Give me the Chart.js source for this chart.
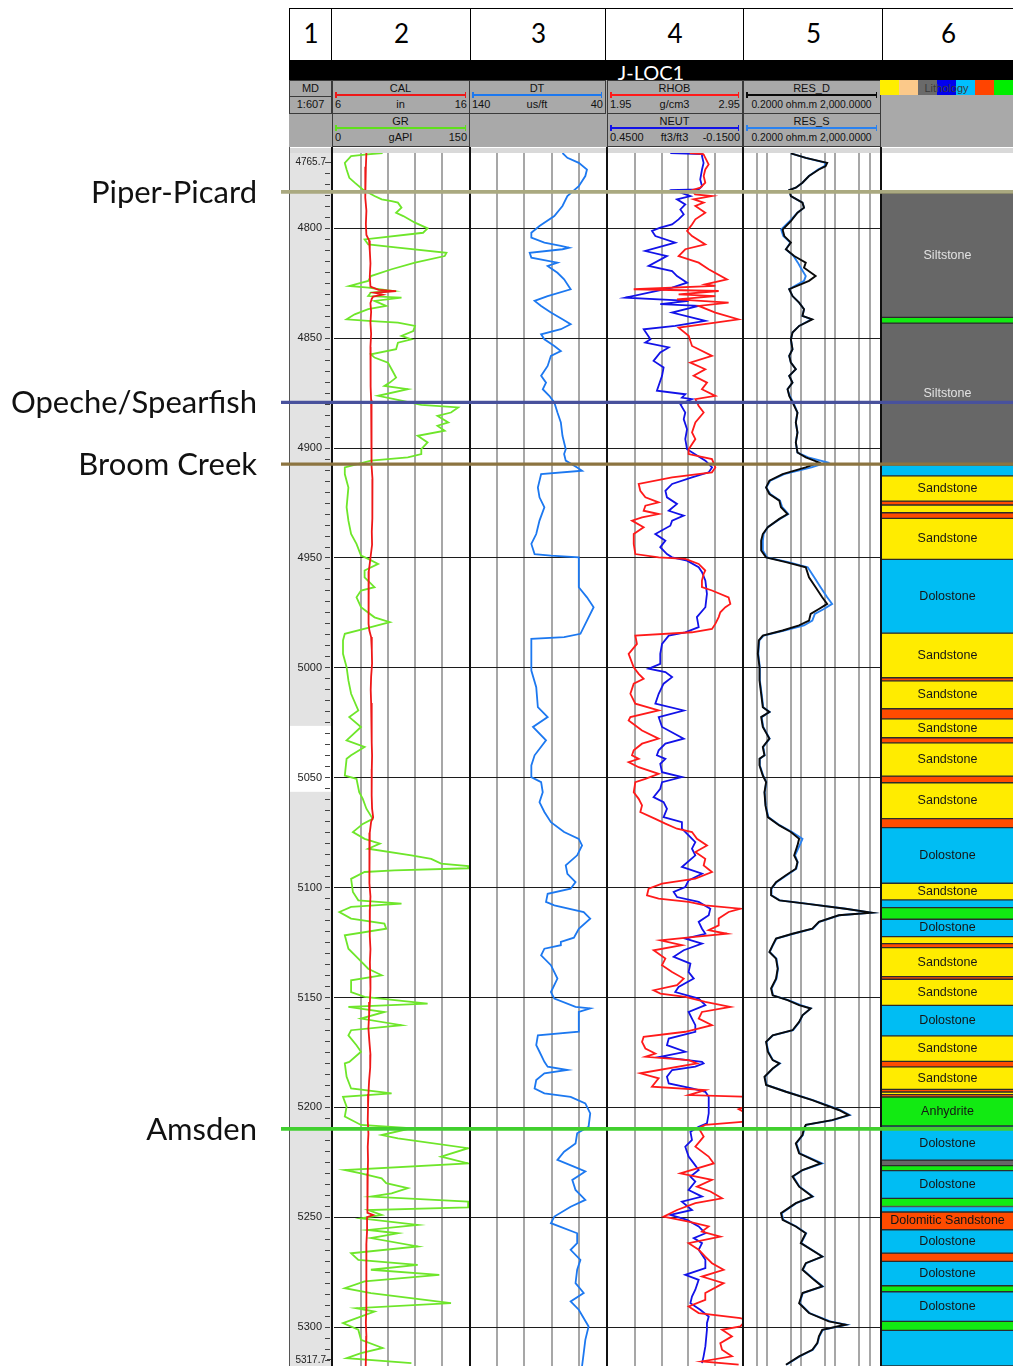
<!DOCTYPE html>
<html>
<head>
<meta charset="utf-8">
<title>J-LOC1 well log</title>
<script src="https://cdn.jsdelivr.net/npm/chart.js@4/dist/chart.umd.min.js"></script>
<style>
  html, body { margin: 0; padding: 0; background: #fff; }
  body { width: 1013px; height: 1367px; overflow: hidden; position: relative; font-family: "Liberation Sans", Arial, sans-serif; }
  .abs { position: absolute; box-sizing: border-box; white-space: nowrap; }
  canvas { position: absolute; }
</style>
</head>
<body>
<script>
// ---------------------------------------------------------------------------
// Depth range and grid
// ---------------------------------------------------------------------------
const DEPTH_TOP = 4765.7;
const DEPTH_BASE = 5317.7;
const DEPTH_GRID = [4800, 4850, 4900, 4950, 5000, 5050, 5100, 5150, 5200, 5250, 5300];
const MD_HIGHLIGHT = [5026.4, 5056.4];

// Formation tops (ft MD)
const FORMATION_NAMES = ['Piper-Picard', 'Opeche/Spearfish', 'Broom Creek', 'Amsden'];
const FORMATION_DEPTHS = [4783.4, 4879.2, 4907.3, 5209.8];

// Curve grid values per track
const GR_GRID = [30, 60, 90, 120];
const DT_GRID = [60, 80, 100, 120];
const RHOB_GRID = [2.15, 2.35, 2.55, 2.75];
const RES_GRID = [0.5, 1, 5, 10, 50, 100, 500, 1000];

// ---------------------------------------------------------------------------
// Log curves: [depth ft, value]
// ---------------------------------------------------------------------------
const GR_API = [
[4765.7,54],[4766.4,34],[4767.1,19],[4770.2,12],[4773.2,14],[4777.0,17],[4779.2,23],[4782.3,32],[4785.3,45],[4786.8,53],
[4787.6,64],[4788.3,71],[4790.6,75],[4792.9,69],[4794.4,77],[4797.4,90],[4800.0,104],[4802.0,99],[4805.0,34],[4807.3,38],
[4808.8,71],[4811.1,125],[4812.6,123],[4815.6,90],[4818.6,64],[4821.7,41],[4823.9,38],[4826.2,17],[4827.0,38],[4828.5,65],
[4829.2,41],[4830.8,38],[4831.5,75],[4833.0,45],[4835.3,58],[4836.8,38],[4839.1,23],[4841.4,14],[4842.1,38],[4842.9,71],
[4844.4,90],[4846.7,88],[4848.9,75],[4850.5,86],[4852.0,71],[4855.0,69],[4857.3,41],[4858.8,45],[4861.1,60],[4864.1,64],
[4867.9,69],[4870.2,62],[4871.7,56],[4873.2,82],[4876.2,49],[4877.7,67],[4880.3,97],[4881.5,138],[4883.8,130],[4885.3,115],
[4888.3,127],[4889.8,115],[4892.1,123],[4894.4,93],[4897.4,104],[4900.5,97],[4902.7,97],[4904.2,82],[4905.7,41],[4908.8,12],
[4911.8,12],[4917.9,16],[4926.9,14],[4933.0,16],[4939.1,19],[4943.6,25],[4948.9,30],[4950.4,38],[4952.7,49],[4955.7,34],
[4958.8,34],[4963.3,45],[4964.8,30],[4967.9,25],[4972.4,30],[4977.0,45],[4979.2,62],[4981.5,41],[4984.5,12],[4987.5,10],
[4993.6,10],[4999.7,14],[5005.7,16],[5011.8,19],[5019.4,27],[5022.4,17],[5026.9,30],[5033.0,14],[5036.0,34],[5039.8,19],
[5041.4,14],[5049.0,12],[5050.5,25],[5056.6,28],[5059.6,32],[5064.1,36],[5068.7,43],[5071.0,32],[5074.7,21],[5077.8,34],
[5080.0,51],[5082.3,38],[5085.3,86],[5086.9,108],[5089.1,119],[5090.2,149],[5091.2,149],[5092.2,67],[5092.9,34],[5096.0,19],
[5102.0,21],[5105.8,27],[5107.3,75],[5108.8,19],[5111.1,6],[5114.1,19],[5116.4,56],[5118.7,58],[5121.7,12],[5127.8,16],
[5132.3,27],[5136.9,38],[5139.9,53],[5142.2,19],[5147.5,19],[5149.7,34],[5152.8,104],[5154.3,16],[5156.6,56],[5159.6,30],
[5162.6,75],[5164.9,19],[5167.2,16],[5171.7,25],[5174.7,30],[5179.3,17],[5180.0,12],[5186.1,14],[5191.4,19],[5193.6,64],
[5195.2,10],[5199.7,14],[5204.2,12],[5208.0,30],[5209.5,86],[5212.6,53],[5214.1,71],[5218.6,149],[5222.4,119],[5225.5,149],
[5228.5,12],[5230.0,30],[5232.3,53],[5234.5,58],[5236.8,82],[5239.1,64],[5240.6,41],[5242.9,149],[5245.5,149],[5246.7,38],
[5248.9,53],[5250.5,30],[5253.5,93],[5255.8,38],[5257.3,71],[5259.5,41],[5263.3,93],[5266.4,19],[5269.4,27],[5271.7,93],
[5273.9,41],[5276.2,117],[5279.2,34],[5282.3,12],[5284.5,41],[5289.1,130],[5291.4,25],[5292.9,45],[5298.2,10],[5301.2,27],
[5305.8,30],[5309.5,54],[5311.8,30],[5314.1,14],[5316.4,86]
];

const CAL_IN = [
[4765.7,8.40],[4772,8.36],[4778,8.30],[4782,8.30],[4786,8.35],[4792,8.40],[4798,8.36],[4803,8.40],[4805.5,8.60],[4810,8.65],
[4816,8.70],[4822,8.65],[4826.5,8.70],[4828,9.30],[4828.6,10.60],[4829.3,9.00],[4830.2,9.60],[4831,8.90],[4832,8.80],[4834,8.70],
[4838,8.75],[4843,8.70],[4848,8.75],[4854,8.70],[4860,8.72],[4866,8.70],[4872,8.72],[4878,8.75],[4884,8.75],[4890,8.78],
[4896,8.78],[4902,8.80],[4908,8.80],[4914,8.85],[4920,8.82],[4926,8.85],[4932,8.85],[4938,8.80],[4944,8.82],[4950,8.70],
[4956,8.58],[4962,8.55],[4968,8.55],[4974,8.56],[4980,8.58],[4983,8.62],[4986,8.75],[4992,8.80],[4998,8.82],[5004,8.75],
[5010,8.72],[5016,8.75],[5022,8.80],[5028,8.78],[5034,8.80],[5040,8.82],[5046,8.80],[5052,8.78],[5058,8.80],[5064,8.82],
[5068,8.90],[5070,8.75],[5075,8.65],[5080,8.60],[5086,8.62],[5092,8.62],[5098,8.65],[5104,8.70],[5110,8.66],[5116,8.64],
[5122,8.66],[5128,8.70],[5134,8.66],[5140,8.68],[5146,8.70],[5152,8.66],[5158,8.60],[5164,8.55],[5170,8.62],[5176,8.70],
[5182,8.68],[5188,8.60],[5194,8.55],[5200,8.52],[5206,8.50],[5212,8.55],[5218,8.50],[5224,8.52],[5230,8.50],[5236,8.48],
[5242,8.45],[5248,8.50],[5249,8.90],[5250,8.45],[5256,8.45],[5262,8.40],[5268,8.42],[5274,8.40],[5280,8.38],[5286,8.40],
[5292,8.38],[5298,8.36],[5304,8.40],[5310,8.38],[5317.7,8.35]
];

const DT_USFT = [
[4765.7,72],[4767.9,68.4],[4770.2,60],[4773.2,54],[4776.2,55.2],[4780.8,60],[4785.3,68.4],[4789.8,72],[4794.4,78],[4798.9,88.9],
[4802.0,94.9],[4804.2,94.9],[4806.5,85.3],[4808.0,73.2],[4808.8,67.2],[4809.5,72],[4811.1,96.1],[4813.3,94.9],[4815.6,75.7],[4817.1,82.9],
[4820.2,75.7],[4823.2,70.8],[4827.7,66],[4830.8,82.9],[4833.0,92.5],[4835.3,87.7],[4838.3,80.5],[4841.4,72],[4843.6,66],[4845.9,73.2],
[4848.2,87.7],[4850.5,85.3],[4853.5,78],[4855.8,73.2],[4858.0,80.5],[4862.6,82.9],[4867.1,87.7],[4870.2,84.1],[4873.2,86.5],[4876.2,81.7],
[4879.2,78],[4883.8,75.7],[4888.3,73.2],[4894.4,72],[4900.5,69.6],[4902.7,70.8],[4905.7,69.6],[4908.8,61.2],[4910.3,57.6],[4911.8,87.7],
[4917.9,90.1],[4922.4,88.9],[4926.9,85.3],[4933.0,88.9],[4939.1,91.3],[4943.6,94.9],[4948.2,92.5],[4948.9,80.5],[4949.7,60],[4955.7,60],
[4963.3,60],[4967.9,54],[4972.4,49.1],[4978.5,54],[4984.5,58.8],[4986.0,70.8],[4986.8,94.9],[4993.6,94.9],[5001.2,94.9],[5008.8,91.3],
[5017.9,90.1],[5022.4,82.9],[5026.9,93.7],[5033.0,84.1],[5039.8,92.5],[5044.4,94.9],[5049.7,94.9],[5052.0,87.7],[5056.6,86.5],[5061.1,88.9],
[5065.6,85.3],[5070.2,80.5],[5074.7,70.8],[5077.8,60],[5080.8,57.6],[5085.3,61.2],[5089.9,69.6],[5093.7,68.4],[5097.5,62.4],[5100.5,66],
[5102.8,82.9],[5106.5,84.1],[5108.1,78],[5111.1,56.4],[5114.1,51.6],[5118.7,60],[5122.8,63.6],[5124.7,73.2],[5126.2,73.2],[5127.8,85.3],
[5130.8,87.7],[5135.3,80.5],[5141.4,75.7],[5147.5,80.5],[5150.5,78],[5154.3,62.4],[5155.0,51.6],[5156.6,60],[5165.6,60],[5167.2,90.1],
[5171.7,91.3],[5174.7,88.9],[5179.3,85.3],[5181.5,82.9],[5183.0,68.4],[5184.5,85.3],[5187.6,91.3],[5191.4,92.5],[5193.6,85.3],[5195.2,66],
[5198.2,55.2],[5202.7,51.6],[5208.8,52.8],[5211.8,61.2],[5216.4,62.4],[5220.2,70.8],[5223.9,75.7],[5227.0,63.6],[5229.2,55.2],[5233.0,64.8],
[5237.6,62.4],[5242.1,55.2],[5245.2,66],[5249.7,78],[5252.7,80.5],[5257.3,61.2],[5261.8,61.2],[5264.8,66],[5269.4,58.8],[5273.9,61.2],
[5280.0,62.4],[5284.5,56.4],[5288.3,66],[5292.1,60],[5299.7,52.8],[5305.8,55.2],[5311.8,56.4],[5317.7,57.6]
];

const RHOB_GCC = [
[4765.7,2.56],[4766.2,2.66],[4766.4,2.664],[4770.9,2.701],[4773.2,2.676],[4776.2,2.664],[4779.2,2.676],[4781.5,2.639],[4782.6,2.577],[4784.5,2.60],
[4785.3,2.726],[4786.8,2.589],[4788.3,2.664],[4789.8,2.602],[4792.9,2.676],[4795.9,2.602],[4798.2,2.577],[4801.2,2.54],[4803.5,2.577],[4807.3,2.676],
[4809.5,2.527],[4812.6,2.477],[4815.6,2.627],[4818.6,2.701],[4823.2,2.838],[4825.5,2.676],[4826.2,2.751],[4827.7,2.142],[4828.5,2.776],[4830.0,2.477],
[4830.8,2.751],[4832.3,2.465],[4833.8,2.85],[4835.3,2.627],[4838.3,2.751],[4841.4,2.925],[4842.9,2.751],[4845.2,2.477],[4848.9,2.552],[4853.5,2.577],
[4858.0,2.726],[4861.1,2.564],[4864.1,2.676],[4867.1,2.589],[4870.2,2.689],[4873.2,2.651],[4876.2,2.751],[4877.7,2.602],[4880.8,2.627],[4883.8,2.664],
[4888.3,2.602],[4892.9,2.577],[4895.9,2.602],[4900.5,2.552],[4902.7,2.552],[4905.0,2.726],[4908.8,2.751],[4911.0,2.726],[4913.3,2.428],[4916.3,2.179],
[4919.4,2.191],[4922.4,2.229],[4924.7,2.328],[4926.2,2.229],[4928.5,2.216],[4930.0,2.328],[4931.5,2.204],[4933.0,2.129],[4936.0,2.216],[4939.1,2.142],
[4943.6,2.142],[4948.2,2.154],[4949.7,2.328],[4950.4,2.527],[4952.7,2.627],[4955.7,2.676],[4957.2,2.664],[4960.3,2.651],[4963.3,2.651],[4964.8,2.726],
[4967.9,2.85],[4970.9,2.863],[4972.4,2.826],[4974.7,2.788],[4976.9,2.776],[4980.0,2.751],[4982.3,2.726],[4983.8,2.577],[4985.3,2.154],[4989.1,2.166],
[4993.6,2.104],[4999.7,2.142],[5002.7,2.179],[5005.0,2.216],[5007.2,2.142],[5011.8,2.117],[5016.3,2.154],[5019.4,2.328],[5022.4,2.117],[5023.9,2.104],
[5028.5,2.204],[5032.2,2.328],[5034.5,2.204],[5037.5,2.142],[5039.8,2.129],[5041.4,2.179],[5042.9,2.104],[5045.2,2.179],[5048.2,2.328],[5050.5,2.229],
[5052.0,2.154],[5056.6,2.142],[5059.6,2.179],[5062.6,2.204],[5065.6,2.191],[5068.7,2.303],[5070.9,2.378],[5073.2,2.465],[5074.7,2.577],[5077.8,2.614],
[5080.8,2.689],[5083.8,2.602],[5086.9,2.676],[5089.9,2.664],[5092.9,2.726],[5095.9,2.602],[5098.2,2.353],[5100.5,2.253],[5103.5,2.241],[5105.0,2.328],
[5106.5,2.552],[5108.1,2.676],[5109.6,2.938],[5111.1,2.85],[5114.1,2.776],[5117.2,2.776],[5119.4,2.701],[5121.0,2.838],[5122.5,2.577],[5124.0,2.341],
[5126.2,2.502],[5128.5,2.291],[5132.3,2.378],[5135.3,2.353],[5138.4,2.428],[5141.4,2.515],[5144.4,2.465],[5146.7,2.291],[5148.2,2.341],[5149.7,2.527],
[5152.0,2.676],[5154.3,2.863],[5156.6,2.651],[5159.6,2.627],[5162.6,2.726],[5165.6,2.527],[5167.9,2.216],[5170.2,2.204],[5173.2,2.229],[5175.5,2.303],
[5177.0,2.229],[5178.5,2.552],[5180.0,2.614],[5184.5,2.191],[5186.8,2.328],[5190.6,2.278],[5192.1,2.676],[5194.4,2.552],[5195.2,2.98],[5199.7,2.98],
[5200.8,2.925],[5202.7,2.98],[5206.5,2.98],[5208.0,2.676],[5209.5,2.627],[5213.3,2.664],[5217.9,2.602],[5222.4,2.701],[5225.5,2.739],[5230.0,2.49],
[5233.0,2.726],[5236.1,2.614],[5238.3,2.714],[5241.4,2.801],[5243.6,2.602],[5246.7,2.465],[5249.7,2.365],[5252.0,2.552],[5254.2,2.701],[5256.5,2.651],
[5258.8,2.788],[5261.8,2.552],[5264.8,2.627],[5267.9,2.676],[5270.9,2.726],[5273.9,2.813],[5277.0,2.651],[5280.0,2.813],[5284.5,2.676],[5287.6,2.676],
[5290.6,2.552],[5293.6,2.627],[5295.9,2.938],[5296.7,2.98],[5299.7,2.938],[5301.2,2.801],[5304.2,2.875],[5307.3,2.788],[5310.3,2.801],[5313.3,2.875],
[5315.6,2.651],[5317.1,2.925]
];

const NEUT_VV = [
[4765.7,0.171],[4766.2,0.029],[4767.1,0.029],[4770.2,0.022],[4773.2,0.029],[4777.7,0.037],[4780.8,0.029],[4782.3,0.044],[4782.6,0.156],[4785.3,0.081],
[4786.8,0.141],[4789.1,0.104],[4791.4,0.126],[4793.6,0.111],[4795.9,0.134],[4798.2,0.163],[4799.7,0.216],[4801.2,0.253],[4803.5,0.238],[4806.5,0.149],
[4810.3,0.283],[4812.6,0.186],[4817.1,0.268],[4819.4,0.163],[4821.7,0.141],[4824.7,0.096],[4827.0,0.163],[4831.5,0.372],[4833.0,0.089],[4834.5,0.216],
[4835.3,0.044],[4838.3,0.163],[4842.1,0.014],[4844.4,0.149],[4845.9,0.29],[4850.5,0.26],[4852.0,0.283],[4854.2,0.178],[4856.5,0.216],[4860.3,0.246],
[4863.3,0.201],[4867.1,0.208],[4873.9,0.231],[4875.5,0.104],[4877.0,0.119],[4877.7,0.074],[4880.0,0.126],[4883.8,0.104],[4886.8,0.111],[4891.4,0.096],
[4895.9,0.104],[4900.5,0.096],[4905.7,0.014],[4908.8,-0.016],[4911.0,-0.001],[4913.3,0.074],[4916.3,0.163],[4919.4,0.193],[4922.4,0.186],[4925.4,0.141],
[4928.5,0.178],[4930.7,0.111],[4933.0,0.163],[4935.3,0.171],[4939.1,0.238],[4942.1,0.193],[4945.1,0.216],[4948.2,0.186],[4949.7,0.163],[4951.2,0.096],
[4954.2,0.044],[4956.5,0.029],[4960.3,0.014],[4966.3,0.007],[4972.4,0.014],[4976.9,0.052],[4981.5,0.044],[4983.8,0.104],[4985.3,0.178],[4989.1,0.208],
[4993.6,0.216],[4998.2,0.216],[5000.4,0.268],[5001.9,0.193],[5004.2,0.163],[5007.2,0.201],[5011.8,0.223],[5016.3,0.238],[5019.4,0.111],[5022.4,0.223],
[5026.9,0.208],[5032.2,0.111],[5034.5,0.193],[5037.5,0.223],[5039.8,0.231],[5041.4,0.193],[5043.7,0.216],[5047.5,0.208],[5049.7,0.119],[5052.0,0.208],
[5055.0,0.216],[5058.8,0.246],[5061.1,0.201],[5064.1,0.186],[5067.9,0.201],[5070.2,0.119],[5073.2,0.119],[5076.2,0.089],[5079.3,0.059],[5082.3,0.074],
[5085.3,0.059],[5090.6,0.119],[5093.7,0.029],[5096.7,0.089],[5099.7,0.104],[5102.0,0.156],[5104.3,0.141],[5106.5,0.044],[5109.6,-0.008],[5112.6,-0.001],
[5115.6,0.044],[5118.7,0.029],[5121.0,0.014],[5123.2,0.104],[5125.5,0.029],[5128.5,0.111],[5131.5,0.156],[5134.6,0.081],[5138.4,0.089],[5141.4,0.066],
[5145.2,0.134],[5147.5,0.149],[5150.5,0.044],[5153.5,0.014],[5156.6,0.089],[5159.6,0.074],[5162.6,0.059],[5165.6,0.059],[5168.7,0.178],[5171.7,0.186],
[5174.7,0.104],[5177.0,0.216],[5179.3,0.029],[5180.0,0.022],[5181.5,0.059],[5183.0,0.163],[5186.1,0.186],[5189.1,0.178],[5191.4,0.074],[5192.9,0.014],
[5195.2,-0.001],[5202.7,-0.001],[5207.3,0.007],[5208.8,0.044],[5211.1,0.081],[5214.8,0.074],[5217.9,0.104],[5222.4,0.089],[5225.5,0.066],[5228.5,0.044],
[5231.5,0.081],[5233.8,0.059],[5237.6,0.089],[5240.6,0.029],[5242.9,0.119],[5246.7,0.074],[5248.9,0.171],[5251.2,0.096],[5254.2,0.044],[5257.3,0.014],
[5259.5,0.066],[5261.8,0.029],[5264.8,0.044],[5269.4,0.014],[5273.2,0.014],[5276.2,0.104],[5278.5,0.044],[5283.0,0.059],[5286.1,0.074],[5289.1,0.081],
[5292.1,0.037],[5295.2,-0.001],[5298.2,0.007],[5301.2,0.007],[5308.8,0.014],[5313.3,0.022],[5316.4,0.029]
];

const RES_D_OHMM = [
[4765.9,5.0],[4767.9,13.6],[4770.2,57.4],[4771.7,51.4],[4773.2,32.9],[4776.2,16.9],[4779.2,10.9],[4781.5,6.97],[4782.6,4.47],[4785.3,5.0],
[4788.3,10.9],[4790.6,12.1],[4792.9,7.79],[4796.7,5.0],[4800.5,2.87],[4803.5,3.21],[4806.5,5.0],[4809.5,3.58],[4812.6,6.24],[4815.6,13.6],
[4817.9,12.1],[4821.7,26.4],[4823.9,16.9],[4827.7,4.47],[4830.8,5.58],[4833.8,8.7],[4836.8,12.1],[4839.8,10.9],[4841.4,21.1],[4844.4,8.7],
[4847.4,5.58],[4850.5,5.0],[4855.0,5.58],[4858.0,4.47],[4861.1,5.0],[4864.1,6.97],[4867.1,4.47],[4870.2,5.58],[4873.2,4.0],[4876.2,4.47],
[4879.2,5.58],[4883.8,7.79],[4888.3,6.97],[4892.9,7.79],[4897.4,6.97],[4902.0,7.79],[4904.2,13.6],[4906.5,32.9],[4908.8,13.6],[4911.8,2.87],
[4914.8,1.18],[4917.9,0.945],[4920.9,1.18],[4923.9,2.3],[4926.9,2.57],[4930.0,4.0],[4932.2,2.3],[4936.0,1.06],[4939.1,0.757],[4942.1,0.678],
[4946.6,0.678],[4949.7,0.945],[4951.9,3.58],[4954.2,13.6],[4958.8,16.9],[4963.3,26.4],[4967.9,41.1],[4970.9,57.4],[4973.2,32.9],[4975.4,18.9],
[4978.5,16.9],[4980.7,8.7],[4983.0,2.87],[4985.3,0.757],[4987.5,0.58],[4993.6,0.543],[4999.7,0.607],[5005.7,0.607],[5011.8,0.678],[5017.9,0.757],
[5020.1,1.18],[5022.4,0.678],[5026.9,0.757],[5032.2,1.18],[5036.0,0.757],[5039.8,0.846],[5041.4,0.607],[5044.4,0.607],[5049.0,0.757],[5052.0,0.945],
[5056.6,0.846],[5062.6,0.905],[5067.9,1.06],[5071.7,2.3],[5074.7,5.0],[5077.8,8.7],[5080.8,7.79],[5085.3,6.24],[5088.4,7.79],[5091.4,6.97],
[5094.4,3.58],[5097.5,1.84],[5100.5,1.32],[5103.5,1.32],[5105.8,2.3],[5107.3,13.6],[5109.6,195],[5111.4,1148],[5112.6,125],[5115.6,32.9],
[5118.7,21.1],[5121.0,5.58],[5123.2,1.84],[5126.2,1.47],[5129.3,1.18],[5132.3,1.84],[5136.9,2.06],[5141.4,1.84],[5145.9,1.32],[5149.0,1.47],
[5151.2,4.0],[5153.5,8.7],[5155.0,18.9],[5158.1,10.9],[5161.1,8.7],[5164.9,5.58],[5167.2,1.47],[5170.2,0.945],[5174.7,1.06],[5178.5,1.47],
[5180.0,2.3],[5182.3,1.47],[5186.1,0.846],[5189.8,0.945],[5192.9,3.58],[5196.7,21.1],[5201.2,125],[5203.5,243],[5205.8,80],[5208.0,13.6],
[5209.5,12.1],[5212.6,10.9],[5216.4,6.97],[5220.9,8.7],[5225.5,36.8],[5228.5,10.9],[5231.5,5.58],[5236.1,8.7],[5240.6,21.1],[5243.6,6.97],
[5248.2,2.57],[5251.2,2.87],[5254.2,6.97],[5257.3,13.6],[5261.8,9.73],[5267.9,41.1],[5270.9,13.6],[5273.9,10.9],[5278.5,23.6],[5281.5,41.1],
[5284.5,10.9],[5289.1,8.7],[5293.6,16.9],[5297.4,64.1],[5298.9,195],[5301.2,41.1],[5304.2,32.9],[5307.3,29.5],[5310.3,21.1],[5313.3,8.7],
[5317.1,3.58]
];

const RES_S_OHMM = [
[4765.9,5.0],[4767.9,13.6],[4770.2,52],[4771.7,48],[4773.2,31],[4776.2,16.9],[4779.2,10.9],[4781.5,6.97],[4782.6,4.47],[4785.3,5.0],
[4788.3,10.9],[4790.6,12.1],[4792.9,7.79],[4796.7,4.6],[4800.5,2.6],[4803.5,3.0],[4806.5,4.8],[4809.5,3.58],[4812.6,6.0],[4815.6,8.0],
[4817.9,9.7],[4821.7,13.6],[4823.9,12.1],[4827.7,4.47],[4830.8,5.58],[4833.8,8.7],[4836.8,12.1],[4839.8,10.9],[4841.4,20],[4844.4,8.7],
[4847.4,5.58],[4850.5,5.0],[4855.0,5.58],[4858.0,4.47],[4861.1,5.0],[4864.1,6.97],[4867.1,4.47],[4870.2,5.58],[4873.2,4.0],[4876.2,4.6],
[4879.2,5.9],[4883.8,7.79],[4888.3,6.97],[4892.9,7.79],[4897.4,6.97],[4902.0,7.79],[4904.2,16],[4906.5,57.4],[4908.8,20],[4911.8,3.2],
[4914.8,1.25],[4917.9,0.95],[4920.9,1.25],[4923.9,2.4],[4926.9,2.8],[4930.0,4.2],[4932.2,2.4],[4936.0,1.06],[4939.1,0.8],[4942.1,0.76],
[4946.6,0.76],[4949.7,1.0],[4951.9,4.2],[4954.2,15.5],[4958.8,24],[4963.3,36.8],[4967.9,57.4],[4970.9,80],[4973.2,46],[4975.4,25],
[4978.5,21.1],[4980.7,12.1],[4983.0,3.2],[4985.3,0.8],[4987.5,0.6],[4993.6,0.56],[4999.7,0.62],[5005.7,0.62],[5011.8,0.7],[5017.9,0.78],
[5020.1,1.2],[5022.4,0.7],[5026.9,0.78],[5032.2,1.2],[5036.0,0.78],[5039.8,0.86],[5041.4,0.62],[5044.4,0.62],[5049.0,0.78],[5052.0,0.96],
[5056.6,0.86],[5062.6,0.92],[5067.9,1.1],[5071.7,2.4],[5074.7,5.4],[5077.8,10.9],[5080.8,9.0],[5085.3,6.6],[5088.4,7.9],[5091.4,7.2],
[5094.4,3.8],[5097.5,1.9],[5100.5,1.36],[5103.5,1.36],[5105.8,2.4],[5107.3,14],[5109.6,200],[5111.4,1100],[5112.6,130],[5115.6,34],
[5118.7,22],[5121.0,5.9],[5123.2,1.9],[5126.2,1.5],[5129.3,1.2],[5132.3,1.9],[5136.9,2.1],[5141.4,1.9],[5145.9,1.36],[5149.0,1.5],
[5151.2,4.2],[5153.5,9.7],[5155.0,19],[5158.1,11],[5161.1,8.9],[5164.9,5.8],[5167.2,1.5],[5170.2,0.96],[5174.7,1.1],[5178.5,1.5],
[5180.0,2.4],[5182.3,1.5],[5186.1,0.87],[5189.8,0.97],[5192.9,3.7],[5196.7,22],[5201.2,135],[5203.5,260],[5205.8,85],[5208.0,14],
[5209.5,12.5],[5212.6,11.2],[5216.4,7.2],[5220.9,9.0],[5225.5,41.1],[5228.5,11.2],[5231.5,5.8],[5236.1,9.0],[5240.6,22],[5243.6,7.2],
[5248.2,2.7],[5251.2,3.0],[5254.2,7.2],[5257.3,14],[5261.8,10],[5267.9,42],[5270.9,14],[5273.9,11.2],[5278.5,25],[5281.5,43],
[5284.5,11.2],[5289.1,9.0],[5293.6,17.5],[5297.4,70],[5298.9,210],[5301.2,43],[5304.2,34],[5307.3,30],[5310.3,22],[5313.3,9.0],
[5317.1,3.7]
];

// Lithology intervals: [top ft, base ft, rock type, show name]
const LITHOLOGY = [
[4784.0,4840.5,'Siltstone',true],[4840.5,4843.1,'Anhydrite',false],[4843.1,4907.6,'Siltstone',true],
[4907.6,4912.6,'Dolostone',false],[4912.6,4924.1,'Sandstone',true],[4924.1,4925.9,'Dolomitic Sandstone',false],
[4925.9,4929.4,'Sandstone',false],[4929.4,4932.0,'Dolomitic Sandstone',false],[4932.0,4950.6,'Sandstone',true],
[4950.6,4984.2,'Dolostone',true],[4984.2,5004.5,'Sandstone',true],[5004.5,5005.9,'Dolomitic Sandstone',false],
[5005.9,5018.6,'Sandstone',true],[5018.6,5023.2,'Dolomitic Sandstone',false],[5023.2,5031.8,'Sandstone',true],
[5031.8,5034.1,'Dolomitic Sandstone',false],[5034.1,5049.3,'Sandstone',true],[5049.3,5052.3,'Dolomitic Sandstone',false],
[5052.3,5068.6,'Sandstone',true],[5068.6,5072.7,'Dolomitic Sandstone',false],[5072.7,5098.0,'Dolostone',true],
[5098.0,5105.6,'Sandstone',true],[5105.6,5109.1,'Dolostone',false],[5109.1,5114.4,'Anhydrite',false],
[5114.4,5122.3,'Dolostone',true],[5122.3,5125.5,'Sandstone',false],[5125.5,5127.3,'Dolomitic Sandstone',false],
[5127.3,5140.5,'Sandstone',true],[5140.5,5141.7,'Dolomitic Sandstone',false],[5141.7,5153.6,'Sandstone',true],
[5153.6,5167.5,'Dolostone',true],[5167.5,5179.1,'Sandstone',true],[5179.1,5181.6,'Dolomitic Sandstone',false],
[5181.6,5191.8,'Sandstone',true],[5191.8,5193.0,'Dolomitic Sandstone',false],[5193.0,5194.2,'Sandstone',false],
[5194.2,5195.3,'Dolomitic Sandstone',false],[5195.3,5208.5,'Anhydrite',true],[5208.5,5224.0,'Dolostone',true],
[5224.0,5226.5,'Siltstone',false],[5226.5,5228.8,'Anhydrite',false],[5228.8,5241.4,'Dolostone',true],
[5241.4,5245.1,'Anhydrite',false],[5245.1,5247.6,'Dolostone',false],[5247.6,5255.7,'Dolomitic Sandstone',true],
[5255.7,5266.3,'Dolostone',true],[5266.3,5270.1,'Dolomitic Sandstone',false],[5270.1,5281.2,'Dolostone',true],
[5281.2,5283.9,'Anhydrite',false],[5283.9,5297.4,'Dolostone',true],[5297.4,5301.5,'Anhydrite',false],
[5301.5,5317.7,'Dolostone',false]
];

// ---------------------------------------------------------------------------
// Layout and styles
// ---------------------------------------------------------------------------
const PAGE_W = 1013;
const PLOT_TOP = 153;
const PLOT_H = 1213;
const TRACK = {
  md:   { left: 289, width: 42 },
  gr:   { left: 334, width: 135 },
  dt:   { left: 470, width: 136 },
  por:  { left: 608, width: 134 },
  res:  { left: 743, width: 137 },
  lith: { left: 881, width: 133 }
};
const TRACK_SEPARATORS = [331.5, 469.5, 606.5, 742.5, 880.5];
const HEADER_COLS = [289, 331, 470, 605, 743, 882, 1013];
const TRACK_NUMBERS = ['1', '2', '3', '4', '5', '6'];
const FORMATION_LINE_START = 281;
const FORMATION_LABEL_RIGHT = 257;

const COLORS = {
  GR: '#6ee62a', CAL: '#ee1818', DT: '#1c78f0', RHOB: '#ff1a1a', NEUT: '#1212e8',
  RES_D: '#0a0a0a', RES_S: '#2a82f0'
};
const FORMATION_COLORS = ['#aaa980', '#48519c', '#8c7440', '#41cf2f'];
const FORMATION_WIDTHS = [3.6, 3.2, 3.4, 3.8];
const LITH_COLORS = {
  'Sandstone': '#ffec00', 'Dolostone': '#00bdf3', 'Siltstone': '#676767',
  'Anhydrite': '#12ea12', 'Dolomitic Sandstone': '#ff4b00'
};
const LITH_TEXT_COLORS = { 'Siltstone': '#e2e2e2' };
const LITH_LEGEND = ['#ffee00', '#fbc98a', '#6a6a6a', '#0000ee', '#00bfff', '#ff4400', '#00ee00'];

const HEADER_CURVES = [
  { name: 'CAL',   color: COLORS.CAL,   lo: '6',      unit: 'in',      hi: '16',      col: 1, row: 0 },
  { name: 'GR',    color: '#5fe01c',    lo: '0',      unit: 'gAPI',    hi: '150',     col: 1, row: 1 },
  { name: 'DT',    color: COLORS.DT,    lo: '140',    unit: 'us/ft',   hi: '40',      col: 2, row: 0 },
  { name: 'RHOB',  color: COLORS.RHOB,  lo: '1.95',   unit: 'g/cm3',   hi: '2.95',    col: 3, row: 0 },
  { name: 'NEUT',  color: COLORS.NEUT,  lo: '0.4500', unit: 'ft3/ft3', hi: '-0.1500', col: 3, row: 1 },
  { name: 'RES_D', color: COLORS.RES_D, text: '0.2000 ohm.m 2,000.0000', col: 4, row: 0 },
  { name: 'RES_S', color: COLORS.RES_S, text: '0.2000 ohm.m 2,000.0000', col: 4, row: 1 }
];
const HEADER_CELL_X = [[289, 331], [332, 469], [469, 605], [607, 742], [743, 880]];

// ---------------------------------------------------------------------------
// Header (plain HTML)
// ---------------------------------------------------------------------------
function put(x, y, w, h, css, text) {
  const d = document.createElement('div');
  d.className = 'abs';
  d.style.cssText = `left:${x}px;top:${y}px;width:${w}px;height:${h}px;` + (css || '');
  if (text != null) d.textContent = text;
  document.body.appendChild(d);
  return d;
}

TRACK_NUMBERS.forEach((n, i) => {
  const x0 = HEADER_COLS[i], x1 = HEADER_COLS[i + 1];
  put(x0, 8, x1 - x0 + 1, 53, 'border-left:1px solid #000;border-top:1px solid #000;' +
      'text-align:center;font:26px Lato,"Open Sans",sans-serif;line-height:48px;color:#000;', n);
});
put(289, 60, PAGE_W - 289, 20, 'background:#000;');
put(289, 58, PAGE_W - 289, 26, 'text-align:center;color:#fff;font:20px Lato,"Open Sans",sans-serif;line-height:28px;', 'J-LOC1');
put(289, 80, PAGE_W - 289, 67, 'background:#a9a9a9;');
put(289, 80, 43, 34, 'border:1px solid #3a3a3a;');
put(289, 96, 43, 1, 'background:#3a3a3a;');
put(289, 81, 43, 14, 'text-align:center;font:11px "Liberation Sans";line-height:14px;color:#111;', 'MD');
put(289, 97, 43, 15, 'text-align:center;font:11px "Liberation Sans";line-height:15px;color:#111;', '1:607');

HEADER_CURVES.forEach(h => {
  const [x0, x1] = HEADER_CELL_X[h.col];
  const w = x1 - x0;
  const y0 = h.row === 0 ? 80 : 113;
  const txt = 'font:11px "Liberation Sans";line-height:13px;color:#111;';
  put(x0, y0, w + 1, 34, 'border:1px solid #3a3a3a;');
  put(x0, y0 + 2, w, 13, 'text-align:center;' + txt, h.name);
  put(x0 + 3, y0 + 14, w - 6, 2, 'background:' + h.color);
  put(x0 + 3, y0 + 12, 1.5, 6, 'background:' + h.color);
  put(x1 - 4.5, y0 + 12, 1.5, 6, 'background:' + h.color);
  if (h.text) {
    put(x0, y0 + 18, w, 13, 'text-align:center;font:10.3px "Liberation Sans";line-height:13px;color:#111;', h.text);
  } else {
    put(x0 + 3, y0 + 18, w - 6, 13, 'text-align:left;' + txt, h.lo);
    put(x0, y0 + 18, w, 13, 'text-align:center;' + txt, h.unit);
    put(x0 + 3, y0 + 18, w - 5, 13, 'text-align:right;' + txt, h.hi);
  }
});
LITH_LEGEND.forEach((c, i) => put(880 + i * 19, 80, 19, 15, 'background:' + c));
put(880, 81, 133, 14, 'text-align:center;font:11px "Liberation Sans";line-height:14px;color:#3a3a3a;', 'Lithology');
put(289, 148, PAGE_W - 289, 5, 'background:#d9d9d9;');

// Track separators
put(288.5, 147, 1.5, PLOT_TOP + PLOT_H - 147, 'background:#555;z-index:2;');
TRACK_SEPARATORS.forEach(x => put(x - 1, 147, 2, PLOT_TOP + PLOT_H - 147, 'background:#111;z-index:2;'));

// ---------------------------------------------------------------------------
// Charts
// ---------------------------------------------------------------------------
function makeCanvas(left, width, z) {
  const c = document.createElement('canvas');
  c.width = width; c.height = PLOT_H;
  c.style.cssText = `left:${left}px;top:${PLOT_TOP}px;width:${width}px;height:${PLOT_H}px;z-index:${z};`;
  document.body.appendChild(c);
  return c;
}

function baseOptions(scales) {
  return {
    responsive: false, maintainAspectRatio: false, animation: false, events: [], devicePixelRatio: 1,
    layout: { padding: 0, autoPadding: false },
    plugins: { legend: { display: false }, tooltip: { enabled: false } },
    elements: { point: { radius: 0 }, line: { tension: 0 } },
    scales
  };
}

function depthAxis(gridOn) {
  return {
    type: 'linear', reverse: true, min: DEPTH_TOP, max: DEPTH_BASE, display: gridOn,
    ticks: { display: false }, border: { display: false },
    grid: { color: '#1c1c1c', lineWidth: 1, drawTicks: false },
    afterBuildTicks: s => { s.ticks = DEPTH_GRID.map(v => ({ value: v })); }
  };
}

function valueAxis(type, min, max, reverse, gridValues) {
  return {
    type, min, max, reverse, position: 'top', display: !!gridValues,
    ticks: { display: false }, border: { display: false },
    grid: { color: '#a7a7a7', lineWidth: 2, drawTicks: false },
    afterBuildTicks: s => { s.ticks = (gridValues || []).map(v => ({ value: v })); }
  };
}

function curve(pairs, axisID, color, width) {
  return {
    data: pairs.map(p => ({ x: p[1], y: p[0] })),
    xAxisID: axisID, yAxisID: 'y', showLine: true,
    borderColor: color, backgroundColor: color, borderWidth: width || 1.8,
    pointRadius: 0, fill: false
  };
}

// Track 1: measured depth
const mdDecor = {
  id: 'mdDecor',
  beforeDraw(chart) {
    const { ctx, width, height } = chart;
    const y = chart.scales.y;
    ctx.save();
    ctx.fillStyle = '#e3e3e3';
    ctx.fillRect(0, 0, width, height);
    const a = y.getPixelForValue(MD_HIGHLIGHT[0]), b = y.getPixelForValue(MD_HIGHLIGHT[1]);
    ctx.fillStyle = '#ffffff';
    ctx.fillRect(0, a, width, b - a);
    ctx.restore();
  },
  afterDraw(chart) {
    const { ctx, width } = chart;
    const y = chart.scales.y;
    ctx.save();
    ctx.font = '10px "Liberation Sans"';
    ctx.fillStyle = '#222';
    ctx.strokeStyle = '#444';
    ctx.textAlign = 'right';
    ctx.textBaseline = 'top';
    const t = y.getPixelForValue(DEPTH_TOP);
    ctx.fillText(DEPTH_TOP.toFixed(1), width - 5, t + 4);
    ctx.textBaseline = 'bottom';
    const b = y.getPixelForValue(DEPTH_BASE);
    ctx.fillText(DEPTH_BASE.toFixed(1), width - 5, b - 1);
    ctx.beginPath();
    ctx.moveTo(width - 4, t + 9.5); ctx.lineTo(width, t + 9.5);
    ctx.moveTo(width - 4, b - 6.5); ctx.lineTo(width, b - 6.5);
    ctx.stroke();
    ctx.restore();
  }
};

new Chart(makeCanvas(TRACK.md.left, TRACK.md.width, 1), {
  type: 'scatter',
  data: { datasets: [] },
  options: baseOptions({
    x: { type: 'linear', display: false, min: 0, max: 1 },
    y: {
      type: 'linear', position: 'left', reverse: true, min: DEPTH_TOP, max: DEPTH_BASE,
      afterBuildTicks: s => {
        const t = [];
        for (let v = Math.ceil(DEPTH_TOP / 5) * 5; v <= DEPTH_BASE; v += 5) t.push({ value: v });
        s.ticks = t;
      },
      afterFit: s => {
        s.width = TRACK.md.width - 1;
        s.paddingTop = 0;
        s.paddingBottom = 0;
      },
      ticks: {
        autoSkip: false, padding: 3, color: '#222',
        font: { size: 11, family: '"Liberation Sans"' },
        callback: v => (v % 50 === 0 ? String(v) : '')
      },
      grid: { drawOnChartArea: false, drawTicks: true, tickLength: 5, color: '#444', lineWidth: 1 },
      border: { display: false }
    }
  }),
  plugins: [mdDecor]
});

// Track 2: CAL + GR
new Chart(makeCanvas(TRACK.gr.left, TRACK.gr.width, 1), {
  type: 'scatter',
  data: { datasets: [
    curve(CAL_IN, 'xCal', COLORS.CAL, 1.8),
    curve(GR_API, 'x', COLORS.GR, 1.8)
  ] },
  options: baseOptions({
    x: valueAxis('linear', 0, 150, false, GR_GRID),
    xCal: valueAxis('linear', 6, 16, false, null),
    y: depthAxis(true)
  })
});

// Track 3: DT
new Chart(makeCanvas(TRACK.dt.left, TRACK.dt.width, 1), {
  type: 'scatter',
  data: { datasets: [curve(DT_USFT, 'x', COLORS.DT, 1.8)] },
  options: baseOptions({
    x: valueAxis('linear', 40, 140, true, DT_GRID),
    y: depthAxis(true)
  })
});

// Track 4: RHOB + NEUT
new Chart(makeCanvas(TRACK.por.left, TRACK.por.width, 1), {
  type: 'scatter',
  data: { datasets: [
    curve(RHOB_GCC, 'x', COLORS.RHOB, 1.8),
    curve(NEUT_VV, 'xNeut', COLORS.NEUT, 1.8)
  ] },
  options: baseOptions({
    x: valueAxis('linear', 1.95, 2.95, false, RHOB_GRID),
    xNeut: valueAxis('linear', -0.15, 0.45, true, null),
    y: depthAxis(true)
  })
});

// Track 5: resistivity (log)
new Chart(makeCanvas(TRACK.res.left, TRACK.res.width, 1), {
  type: 'scatter',
  data: { datasets: [
    curve(RES_D_OHMM, 'x', COLORS.RES_D, 1.9),
    curve(RES_S_OHMM, 'x', COLORS.RES_S, 1.9)
  ] },
  options: baseOptions({
    x: valueAxis('logarithmic', 0.2, 2000, false, RES_GRID),
    y: depthAxis(true)
  })
});

// Track 6: lithology column
const lithNames = {
  id: 'lithNames',
  afterDatasetsDraw(chart) {
    const { ctx } = chart;
    ctx.save();
    ctx.font = '12.5px "Liberation Sans"';
    ctx.textAlign = 'center';
    ctx.textBaseline = 'middle';
    chart.data.datasets.forEach((ds, i) => {
      if (!ds.showName) return;
      const el = chart.getDatasetMeta(i).data[0];
      ctx.fillStyle = LITH_TEXT_COLORS[ds.rock] || '#151515';
      ctx.fillText(ds.rock, el.x, (el.y + el.base) / 2);
    });
    ctx.restore();
  }
};

new Chart(makeCanvas(TRACK.lith.left, TRACK.lith.width, 1), {
  type: 'bar',
  data: {
    labels: ['Lithology'],
    datasets: LITHOLOGY.map(([top, base, rock, showName]) => ({
      data: [[top, base]], rock, showName,
      backgroundColor: LITH_COLORS[rock], borderColor: '#2c2c2c',
      borderWidth: { top: 1, bottom: 1, left: 0, right: 0 }, borderSkipped: false,
      barPercentage: 1, categoryPercentage: 1, grouped: false
    }))
  },
  options: baseOptions({
    x: { type: 'category', display: false },
    y: { type: 'linear', reverse: true, min: DEPTH_TOP, max: DEPTH_BASE, display: false }
  }),
  plugins: [lithNames]
});

// Formation tops overlay
const formationNames = {
  id: 'formationNames',
  afterDatasetsDraw(chart) {
    const { ctx } = chart;
    const y = chart.scales.y;
    ctx.save();
    ctx.font = '31px Lato, "Open Sans", sans-serif';
    ctx.fillStyle = '#111';
    ctx.textAlign = 'right';
    ctx.textBaseline = 'middle';
    FORMATION_NAMES.forEach((n, i) => ctx.fillText(n, FORMATION_LABEL_RIGHT, y.getPixelForValue(FORMATION_DEPTHS[i]) + 1));
    ctx.restore();
  }
};

new Chart(makeCanvas(0, PAGE_W, 3), {
  type: 'scatter',
  data: {
    datasets: FORMATION_DEPTHS.map((d, i) => ({
      data: [{ x: FORMATION_LINE_START, y: d }, { x: PAGE_W, y: d }],
      showLine: true, borderColor: FORMATION_COLORS[i], borderWidth: FORMATION_WIDTHS[i], pointRadius: 0
    }))
  },
  options: baseOptions({
    x: { type: 'linear', display: false, min: 0, max: PAGE_W },
    y: { type: 'linear', reverse: true, min: DEPTH_TOP, max: DEPTH_BASE, display: false }
  }),
  plugins: [formationNames]
});
</script>
</body>
</html>
